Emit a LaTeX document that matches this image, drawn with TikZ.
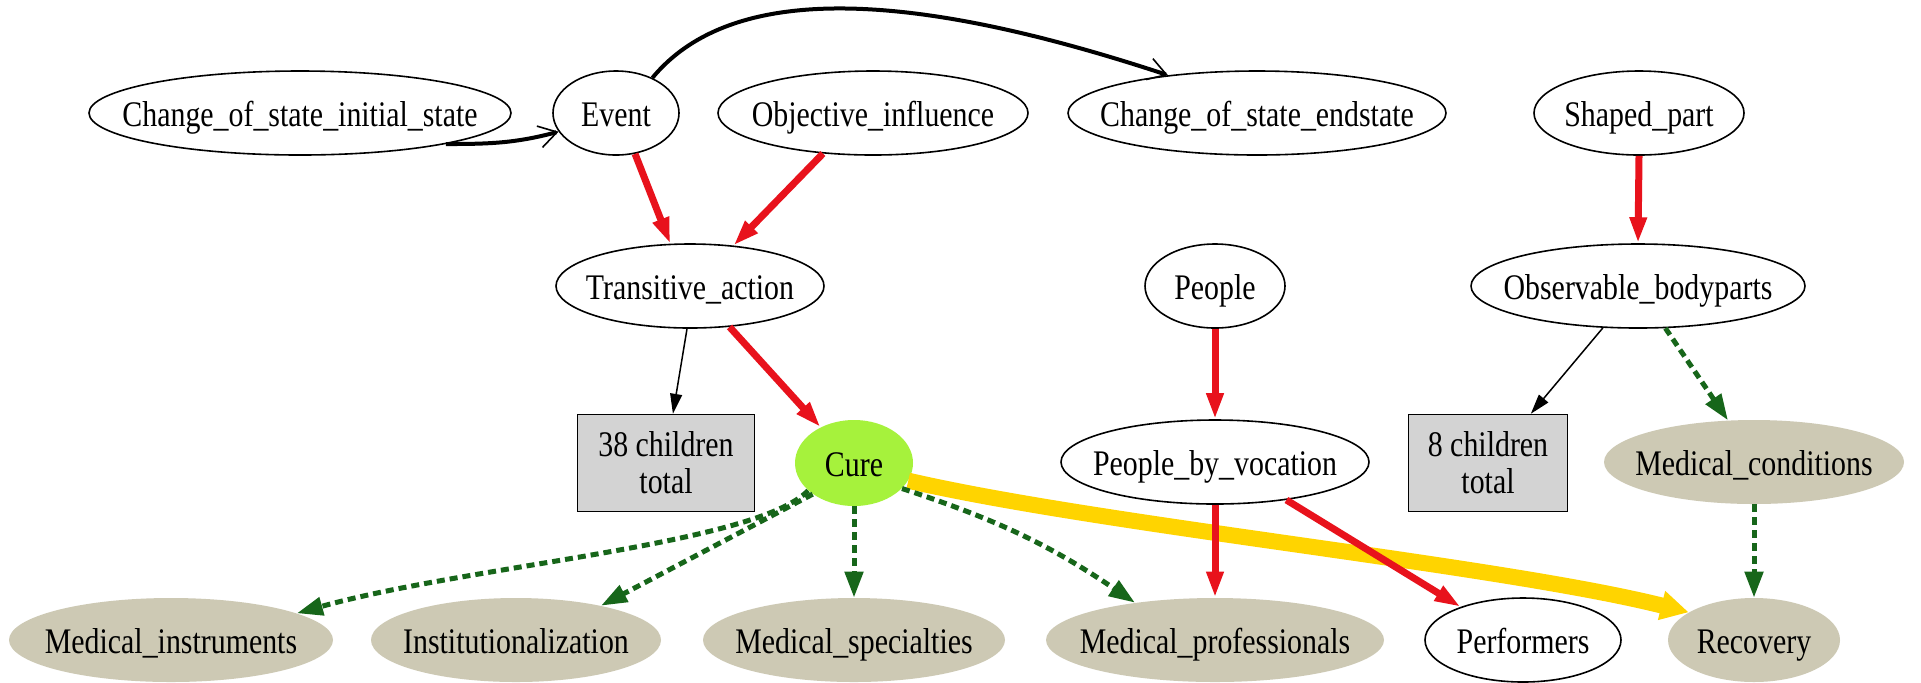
\documentclass[tikz,border=0pt]{standalone}
\usepackage{fontspec}
\setmainfont{Liberation Serif}[FakeStretch=0.83]
\usetikzlibrary{shapes.geometric,arrows.meta}

\definecolor{edgered}{HTML}{E8121C}
\definecolor{edgegreen}{HTML}{17661A}
\definecolor{edgegold}{HTML}{FFD400}
\definecolor{leaftan}{HTML}{CDC9B4}
\definecolor{curegreen}{HTML}{A6F23C}
\definecolor{countgray}{HTML}{D3D3D3}

\begin{document}
\begin{tikzpicture}[x=0.5pt,y=-0.5pt,
  font=\fontsize{18}{18.5}\selectfont,
  dims/.style 2 args={minimum width=#1pt, minimum height=#2pt},
  oval/.style={ellipse, inner sep=0pt, text height=16pt, text depth=3pt,
    execute at begin node={\hbox to 0pt\bgroup\hss},
    execute at end node={\hss\egroup}},
  frame/.style={oval, draw=black, line width=0.8pt, fill=white},
  leaf/.style={oval, fill=leaftan},
  focus/.style={oval, fill=curegreen},
  count/.style={rectangle, draw=black, line width=0.7pt, fill=countgray,
    align=center, inner sep=0pt},
  link/.style={line width=0.75pt, -{Triangle[length=10pt,width=6pt]}},
  isa/.style={draw=edgered, line width=3.5pt, -{Triangle[length=13pt,width=8pt]}},
  part/.style={draw=edgegreen, line width=2.5pt, dash pattern=on 4pt off 2.5pt,
    -{Triangle[length=13pt,width=9pt]}},
  temporal/.style={line width=2pt,
    -{Straight Barb[length=9pt,width=11pt,line width=0.8pt]}},
  focusline/.style={draw=edgegold, line width=8pt,
    -{Triangle[length=14pt,width=14pt]}}]

\fill[white] (0,0) rectangle (1921,682);
\useasboundingbox (0,0) rectangle (1921,682);

% top row
\node[frame, dims={211}{42}] (csi) at (300,113) {Change\_of\_state\_initial\_state};
\node[frame, dims={63}{42}]  (ev)  at (616,113) {Event};
\node[frame, dims={155}{42}] (oi)  at (873,113) {Objective\_influence};
\node[frame, dims={189}{42}] (cse) at (1257,113) {Change\_of\_state\_endstate};
\node[frame, dims={105}{42}] (sp)  at (1639,113) {Shaped\_part};

% second row
\node[frame, dims={134}{42}] (ta) at (690,286) {Transitive\_action};
\node[frame, dims={70}{42}]  (pe) at (1215,286) {People};
\node[frame, dims={167}{42}] (ob) at (1638,286) {Observable\_bodyparts};

% third row
\node[count, dims={88.5}{48.5}] (b38) at (666,463) {38 children\\total};
\node[focus, dims={59}{43}]  (cure) at (854,463) {Cure};
\node[frame, dims={154}{42}] (pbv)  at (1215,462) {People\_by\_vocation};
\node[count, dims={79.5}{48.5}] (b8) at (1488,463) {8 children\\total};
\node[leaf, dims={150}{42}]  (mc)   at (1754,462) {Medical\_conditions};

% bottom row
\node[leaf, dims={162}{42}]  (mi)   at (171,640)  {Medical\_instruments};
\node[leaf, dims={145}{42}]  (inst) at (516,640)  {Institutionalization};
\node[leaf, dims={151}{42}]  (ms)   at (854,640)  {Medical\_specialties};
\node[leaf, dims={169}{42}]  (mp)   at (1215,640) {Medical\_professionals};
\node[frame, dims={98}{42}]  (perf) at (1523,640) {Performers};
\node[leaf, dims={86}{42}]   (rec)  at (1754,640) {Recovery};

% connectors
\draw[focusline] (cure.-18) .. controls (1100,525) and (1500,565) .. (rec.157);

\draw[temporal] (csi.-12) to[out=0,in=195] (ev.198);
\draw[temporal] (ev.44) .. controls (735,-22) and (922,-6) .. (cse.157);

\draw[isa] (ev.-65) -- (ta.115);
\draw[isa] (oi.219) -- (ta.43);
\draw[isa] (sp.south) -- (ob.north);
\draw[isa] (ta.-46) -- (cure.133);
\draw[isa] (pe.south) -- (pbv.north);
\draw[isa] (pbv.south) -- (mp.north);
\draw[isa] (pbv.-28) -- (perf.152);

\draw[link] (ta.266) -- (b38.82);
\draw[link] (ob.230) -- (b8.49);

\draw[part] (ob.-57) -- (mc.122);
\draw[part] (cure.211) .. controls (755,545) and (470,565) .. (mi.12);
\draw[part] (cure.217) -- (inst.22);
\draw[part] (cure.south) -- (ms.north);
\draw[part] (cure.-28) to[bend left=8] (mp.155);
\draw[part] (mc.south) -- (rec.north);
\end{tikzpicture}
\end{document}
